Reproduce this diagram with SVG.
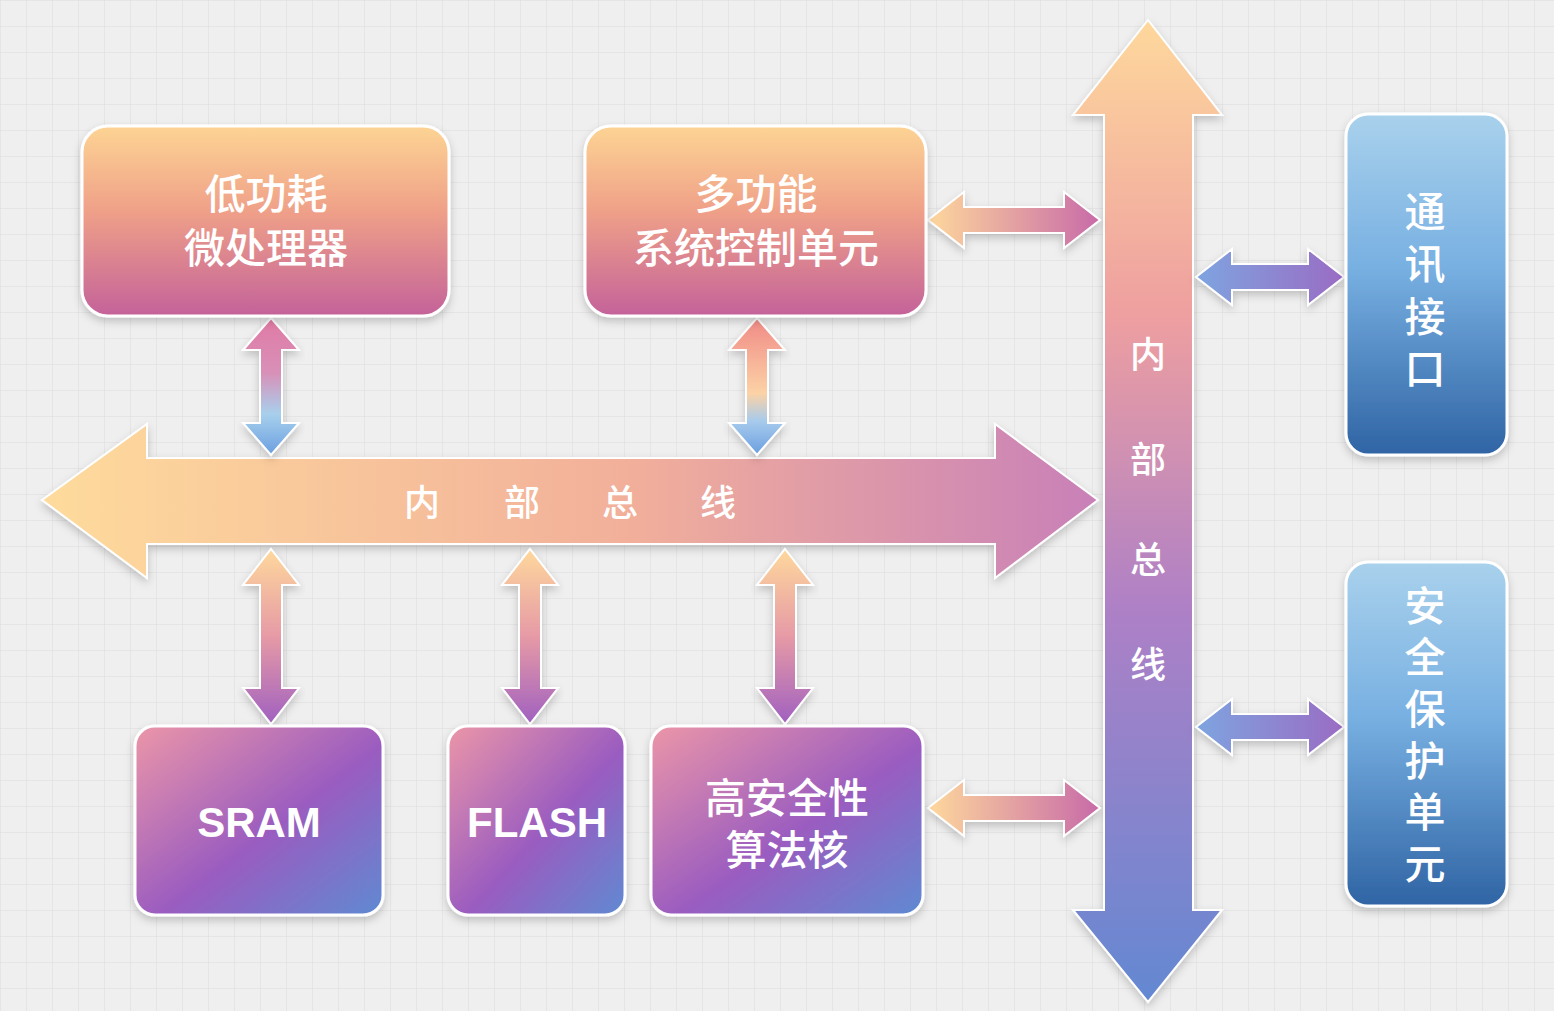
<svg xmlns="http://www.w3.org/2000/svg" width="1554" height="1011" viewBox="0 0 1554 1011">
<defs>
<pattern id="grid" width="26" height="26" patternUnits="userSpaceOnUse"><path d="M26 0H0V26" fill="none" stroke="#dcdcdc" stroke-width="1"/></pattern>
<linearGradient id="gTop" x1="0" y1="0" x2="0" y2="1"><stop offset="0" stop-color="#fdd494"/><stop offset="0.45" stop-color="#efa088"/><stop offset="1" stop-color="#c4629a"/></linearGradient>
<linearGradient id="gBot" x1="0" y1="0" x2="1" y2="1"><stop offset="0" stop-color="#ec96a8"/><stop offset="0.55" stop-color="#9a5cc0"/><stop offset="1" stop-color="#5f8ad2"/></linearGradient>
<linearGradient id="gBlue" x1="0" y1="0" x2="0" y2="1"><stop offset="0" stop-color="#a9d1ec"/><stop offset="0.45" stop-color="#78b0e2"/><stop offset="1" stop-color="#2f64a4"/></linearGradient>
<linearGradient id="gH" x1="0" y1="0" x2="1" y2="0"><stop offset="0" stop-color="#fedb9c"/><stop offset="0.55" stop-color="#f2b09a"/><stop offset="1" stop-color="#c880b8"/></linearGradient>
<linearGradient id="gV" x1="0" y1="0" x2="0" y2="1"><stop offset="0" stop-color="#fed89c"/><stop offset="0.3" stop-color="#ee9fa0"/><stop offset="0.6" stop-color="#ae80c6"/><stop offset="1" stop-color="#6388d2"/></linearGradient>
<linearGradient id="aOP" x1="0" y1="0" x2="1" y2="0"><stop offset="0" stop-color="#fed89c"/><stop offset="1" stop-color="#c86aa8"/></linearGradient>
<linearGradient id="aBP" x1="0" y1="0" x2="1" y2="0"><stop offset="0" stop-color="#7ea4e0"/><stop offset="1" stop-color="#9a6cc4"/></linearGradient>
<linearGradient id="aPB" x1="0" y1="0" x2="0" y2="1"><stop offset="0" stop-color="#e07aa4"/><stop offset="0.4" stop-color="#d890b8"/><stop offset="0.7" stop-color="#a8d0ec"/><stop offset="1" stop-color="#6a9ee0"/></linearGradient>
<linearGradient id="aSB" x1="0" y1="0" x2="0" y2="1"><stop offset="0" stop-color="#f08a86"/><stop offset="0.55" stop-color="#fcd2a6"/><stop offset="0.75" stop-color="#a8cbec"/><stop offset="1" stop-color="#6a9ee0"/></linearGradient>
<linearGradient id="aOPv" x1="0" y1="0" x2="0" y2="1"><stop offset="0" stop-color="#fed89c"/><stop offset="0.5" stop-color="#e69aa6"/><stop offset="1" stop-color="#a060c0"/></linearGradient>
<filter id="sh" x="-10%" y="-10%" width="120%" height="130%"><feDropShadow dx="0" dy="4" stdDeviation="4" flood-color="#000" flood-opacity="0.2"/></filter>
</defs>
<style>
.box{stroke:#fff;stroke-width:3;filter:url(#sh)}
.arr{stroke:#fff;stroke-width:2;filter:url(#sh)}
.t{font-family:"Noto Sans CJK SC",sans-serif;font-weight:500;fill:#fff;font-size:41px;text-anchor:middle}
.e{font-family:"Liberation Sans",Arial,sans-serif;font-weight:bold;fill:#fff;font-size:42px;text-anchor:middle}
.bus{font-family:"Noto Sans CJK SC",sans-serif;font-weight:500;fill:#fff;font-size:36px;text-anchor:middle}
</style>
<rect width="1554" height="1011" fill="#efefef"/>
<rect width="1554" height="1011" fill="url(#grid)"/>
<g id="connectors">
<polygon class="arr" fill="url(#gH)" points="42,500 147,424 147,458 995,458 995,424 1098,500 995,578 995,544 147,544 147,578"/>
<polygon class="arr" fill="url(#gV)" points="1148,20 1222,115 1193,115 1193,910 1222,910 1148,1002 1073,910 1104,910 1104,115 1073,115"/>
<polygon class="arr" fill="url(#aOP)" points="928,220 964,192 964,207 1064,207 1064,192 1100,220 1064,248 1064,233 964,233 964,248"/>
<polygon class="arr" fill="url(#aBP)" points="1196,277 1232,249 1232,264 1308,264 1308,249 1344,277 1308,305 1308,290 1232,290 1232,305"/>
<polygon class="arr" fill="url(#aOP)" points="928,808 964,780 964,795 1064,795 1064,780 1100,808 1064,836 1064,821 964,821 964,836"/>
<polygon class="arr" fill="url(#aBP)" points="1196,727 1232,699 1232,714 1308,714 1308,699 1344,727 1308,755 1308,740 1232,740 1232,755"/>
<polygon class="arr" fill="url(#aPB)" points="271,318 299,350 282,350 282,423 299,423 271,455 243,423 260,423 260,350 243,350"/>
<polygon class="arr" fill="url(#aSB)" points="757,318 785,350 768,350 768,423 785,423 757,455 729,423 746,423 746,350 729,350"/>
<polygon class="arr" fill="url(#aOPv)" points="271,549 299,585 282,585 282,688 299,688 271,724 243,688 260,688 260,585 243,585"/>
<polygon class="arr" fill="url(#aOPv)" points="530,549 558,585 541,585 541,688 558,688 530,724 502,688 519,688 519,585 502,585"/>
<polygon class="arr" fill="url(#aOPv)" points="785,549 813,585 796,585 796,688 813,688 785,724 757,688 774,688 774,585 757,585"/>
<g class="bus"><text x="422" y="516">内</text><text x="522" y="516">部</text><text x="620" y="516">总</text><text x="718" y="516">线</text>
<text x="1148" y="368">内</text><text x="1148" y="473">部</text><text x="1148" y="573">总</text><text x="1148" y="678">线</text></g>
</g>
<g id="n1"><rect class="box" x="82" y="126" width="367" height="190" rx="26" fill="url(#gTop)"/><text class="t" x="266" y="209">低功耗</text><text class="t" x="266" y="263">微处理器</text></g>
<g id="n2"><rect class="box" x="585" y="126" width="341" height="190" rx="26" fill="url(#gTop)"/><text class="t" x="756" y="209">多功能</text><text class="t" x="756" y="263">系统控制单元</text></g>
<g id="n3"><rect class="box" x="1346" y="114" width="161" height="341" rx="22" fill="url(#gBlue)"/><g class="t"><text x="1425" y="227">通</text><text x="1425" y="279">讯</text><text x="1425" y="332">接</text><text x="1425" y="384">口</text></g></g>
<g id="n4"><rect class="box" x="1346" y="562" width="161" height="344" rx="22" fill="url(#gBlue)"/><g class="t"><text x="1425" y="621">安</text><text x="1425" y="672">全</text><text x="1425" y="724">保</text><text x="1425" y="776">护</text><text x="1425" y="827">单</text><text x="1425" y="879">元</text></g></g>
<g id="n5"><rect class="box" x="135" y="726" width="248" height="189" rx="20" fill="url(#gBot)"/><text class="e" x="259" y="837">SRAM</text></g>
<g id="n6"><rect class="box" x="448" y="726" width="177" height="189" rx="20" fill="url(#gBot)"/><text class="e" x="537" y="837">FLASH</text></g>
<g id="n7"><rect class="box" x="651" y="726" width="272" height="189" rx="20" fill="url(#gBot)"/><text class="t" x="787" y="813">高安全性</text><text class="t" x="787" y="865">算法核</text></g>
</svg>
